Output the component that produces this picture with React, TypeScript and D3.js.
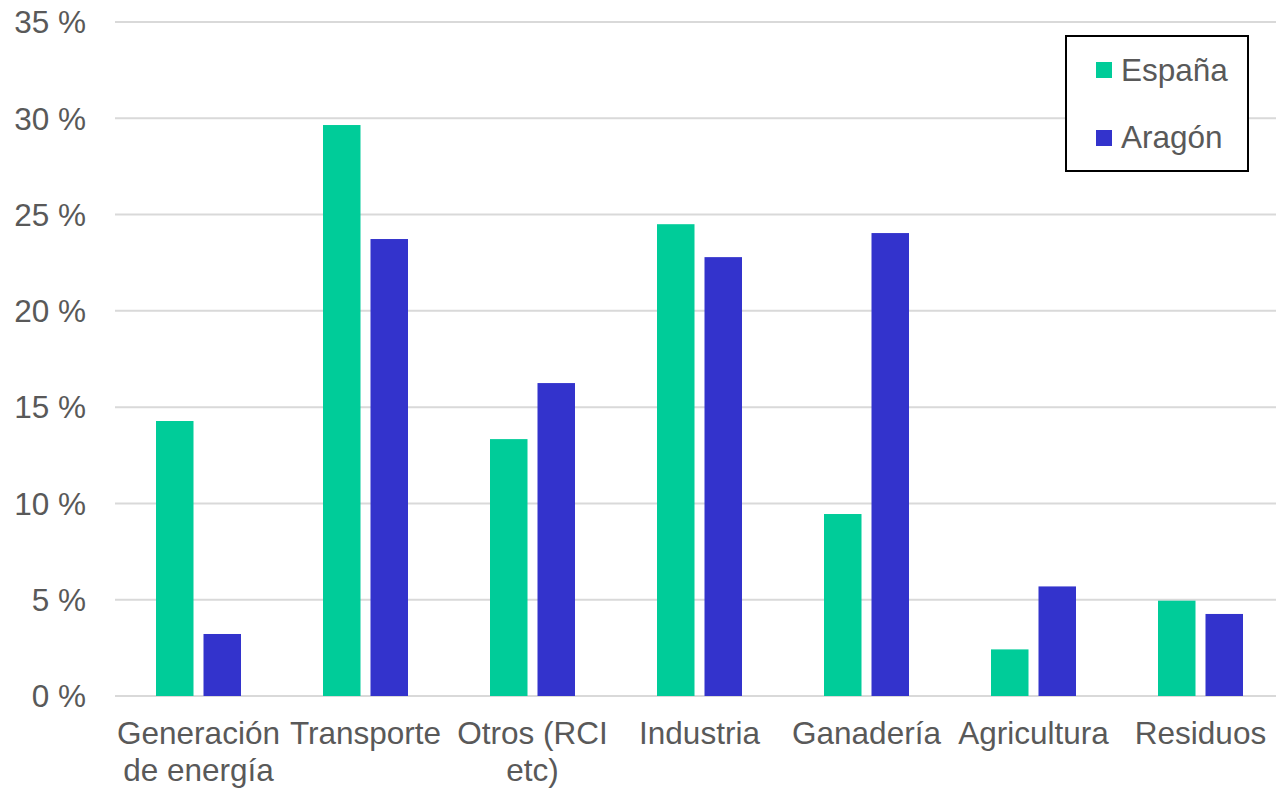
import React from "react";
import * as d3 from "d3";

const categories: string[][] = [
  ["Generación", "de energía"],
  ["Transporte"],
  ["Otros (RCI", "etc)"],
  ["Industria"],
  ["Ganadería"],
  ["Agricultura"],
  ["Residuos"],
];
const seriesNames = ["España", "Aragón"];
const espana = [14.28, 29.65, 13.34, 24.5, 9.45, 2.42, 4.95];
const aragon = [3.22, 23.73, 16.25, 22.79, 24.04, 5.69, 4.26];
const yTicks = [0, 5, 10, 15, 20, 25, 30, 35];
const colors = ["#00CC99", "#3333CC"];

const W = 1276;
const H = 788;
const FONT = "'Liberation Sans', Arial, sans-serif";
const TEXT = "#595959";

export default function App() {
  const keys = categories.map((c) => c.join(" "));
  const x = d3.scaleBand<string>().domain(keys).range([115, 1284]).padding(0);
  const y = d3.scaleLinear().domain([0, 35]).range([696, 22]);
  const inner = d3.scaleBand<string>().domain(seriesNames).range([-42.5, 42.5]).paddingInner(10 / 47.5);
  const series = [espana, aragon];

  return (
    <svg width={W} height={H} style={{ position: "absolute", left: 0, top: 0, background: "#fff" }} fontFamily={FONT}>
      {yTicks.map((t) => (
        <g key={t}>
          <line x1={115} x2={W} y1={y(t)} y2={y(t)} stroke="#d9d9d9" strokeWidth={2} />
          <text x={86} y={y(t)} dy="0.36em" textAnchor="end" fontSize={31.5} fill={TEXT}>
            {t} %
          </text>
        </g>
      ))}
      {series.map((vals, si) =>
        vals.map((v, i) => {
          const cx = (x(keys[i]) as number) + x.bandwidth() / 2;
          const bx = cx + (inner(seriesNames[si]) as number);
          return (
            <rect
              key={`${si}-${i}`}
              x={bx}
              y={y(v)}
              width={inner.bandwidth()}
              height={y(0) - y(v)}
              fill={colors[si]}
            />
          );
        })
      )}
      {categories.map((lines, i) => {
        const cx = (x(keys[i]) as number) + x.bandwidth() / 2;
        return (
          <text key={i} x={cx} textAnchor="middle" fontSize={31.5} fill={TEXT}>
            {lines.map((l, j) => (
              <tspan key={j} x={cx} y={744 + j * 37}>
                {l}
              </tspan>
            ))}
          </text>
        );
      })}
      <g>
        <rect x={1066} y={36} width={182} height={135} fill="#fff" stroke="#000" strokeWidth={2} />
        {seriesNames.map((s, i) => (
          <g key={s}>
            <rect x={1096} y={62 + i * 68} width={16} height={16} fill={colors[i]} />
            <text x={1121} y={81 + i * 67} fontSize={31.5} fill={TEXT}>
              {s}
            </text>
          </g>
        ))}
      </g>
    </svg>
  );
}
